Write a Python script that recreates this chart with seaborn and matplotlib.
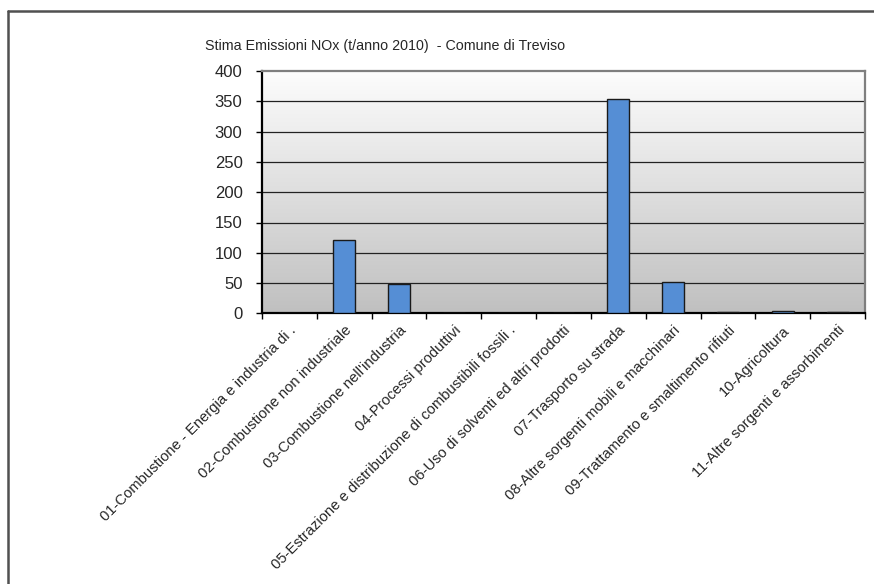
import numpy as np
import pandas as pd
import matplotlib
matplotlib.use("Agg")
import matplotlib.pyplot as plt
import seaborn as sns
from matplotlib.lines import Line2D

# NOx emissions by SNAP macro-sector, Treviso 2010 (t/year)
categories = [
    "01-Combustione - Energia e industria di .",
    "02-Combustione non industriale",
    "03-Combustione nell'industria",
    "04-Processi produttivi",
    "05-Estrazione e distribuzione di combustibili fossili .",
    "06-Uso di solventi ed altri prodotti",
    "07-Trasporto su strada",
    "08-Altre sorgenti mobili e macchinari",
    "09-Trattamento e smaltimento rifiuti",
    "10-Agricoltura",
    "11-Altre sorgenti e assorbimenti",
]
emissions = [0, 121, 48, 0, 0, 0, 354, 51, 1.5, 4, 1.5]
y_ticks = [0, 50, 100, 150, 200, 250, 300, 350, 400]
title = "Stima Emissioni NOx (t/anno 2010)  - Comune di Treviso"

sns.set_theme(style="white")
plt.rcParams["font.family"] = ["Liberation Sans", "DejaVu Sans"]

W, H = 874, 584
fig = plt.figure(figsize=(W / 100, H / 100), dpi=100)
fig.patch.set_facecolor("white")

left, right, top, bottom = 262, 865, 71, 313.4
ax = fig.add_axes([left / W, 1 - bottom / H, (right - left) / W, (bottom - top) / H])

df = pd.DataFrame({"categoria": categories, "emissioni": emissions})

# vertical gradient background of the plot area: light at the top, grey at the bottom
grad = np.linspace(0, 1, 256).reshape(-1, 1)
cmap = matplotlib.colors.LinearSegmentedColormap.from_list("bg", ["#fdfdfd", "#c0c0c0"])
ax.imshow(grad, extent=(-0.5, len(categories) - 0.5, 0, 400), aspect="auto",
          cmap=cmap, zorder=0, origin="upper")

sns.barplot(data=df, x="categoria", y="emissioni", color="#558ed5",
            edgecolor="#1a1a1a", linewidth=1.0, width=0.4, saturation=1,
            ax=ax, zorder=3)

ax.set_xlim(-0.5, len(categories) - 0.5)
ax.set_ylim(0, 400)
ax.set_yticks(y_ticks)
ax.set_yticklabels([str(v) for v in y_ticks], fontsize=12)
for v in y_ticks[1:-1]:
    ax.axhline(v, color="#222222", lw=0.9, zorder=1)

ax.set_xlabel("")
ax.set_ylabel("")
ax.set_xticks(range(len(categories)))
ax.set_xticklabels(categories, rotation=45, ha="right", rotation_mode="anchor",
                   fontsize=10.6)
ax.set_xticks(np.arange(-0.5, len(categories)), minor=True)
ax.tick_params(axis="x", which="major", length=0, pad=7)
ax.tick_params(axis="x", which="minor", length=4, width=1, color="black",
               direction="out", bottom=True)
ax.tick_params(axis="y", length=4, width=1, color="black", direction="out",
               left=True, pad=10)

for side in ["left", "bottom"]:
    ax.spines[side].set_color("black")
    ax.spines[side].set_linewidth(1.6)
for side in ["top", "right"]:
    ax.spines[side].set_color("#7f7f7f")
    ax.spines[side].set_linewidth(1.6)

fig.text(205 / W, 1 - 46 / H, title, fontsize=10.3, ha="left", va="center")

# chart frame
fig.add_artist(Line2D([8 / W, 1.0], [1 - 11 / H, 1 - 11 / H], color="#505050",
                      lw=1.8, transform=fig.transFigure))
fig.add_artist(Line2D([8 / W, 8 / W], [0, 1 - 11 / H], color="#505050",
                      lw=1.8, transform=fig.transFigure))

fig.savefig("out.png", dpi=100)
